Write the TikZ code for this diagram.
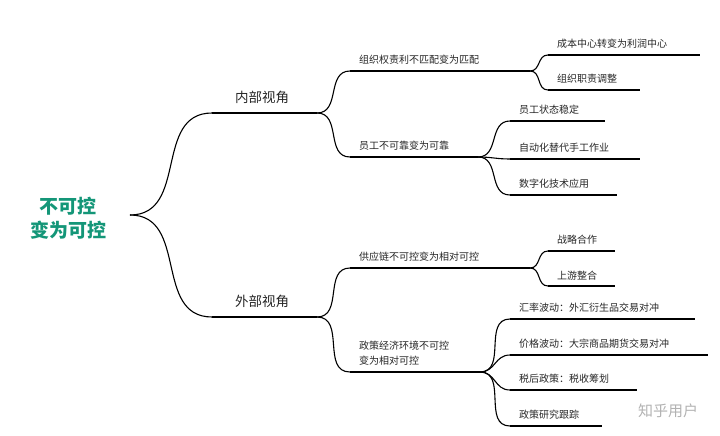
\documentclass[tikz,border=0pt]{standalone}
\usepackage{fontspec}
\setmainfont{Noto Sans CJK SC}
\definecolor{rootteal}{RGB}{20,150,120}
\usetikzlibrary{positioning}
% underlined topic: name, left x, right x, line y, text
\newcommand{\topic}[6][10pt]{%
  \coordinate (#2-l) at (#3,#5);
  \coordinate (#2-r) at (#4,#5);
  \draw[line] (#2-l) -- (#2-r);
  \node[label text, font=\fontsize{#1}{#1}\selectfont, above right=5pt and 8pt of #2-l] (#2) {#6};}
\begin{document}
\begin{tikzpicture}[x=1pt,y=-1pt,
    line/.style={line width=1.1pt, black},
    branch/.style={line, out=0, in=180, looseness=1.15},
    label text/.style={inner sep=1pt, text=black!85}]
  \useasboundingbox (0,0) rectangle (720,436);
  % root
  \node[font=\bfseries\fontsize{19}{24}\selectfont, text=rootteal, align=center] (root) at (68,218) {不可控\\变为可控};
  \coordinate (root-r) at (130,215);
  % first level
  \coordinate (inner-l) at (212,113);
  \coordinate (inner-r) at (317,113);
  \coordinate (outer-l) at (212,317);
  \coordinate (outer-r) at (317,317);
  \draw[line] (inner-l) -- (inner-r) (outer-l) -- (outer-r);
  \node[label text, font=\fontsize{13.5pt}{14pt}\selectfont] (inner) at (262,97) {内部视角};
  \node[label text, font=\fontsize{13.5pt}{14pt}\selectfont] (outer) at (262,301) {外部视角};
  % second level
  \topic{org}{350}{530}{71}{组织权责利不匹配变为匹配}
  \topic{staff}{350}{478}{157}{员工不可靠变为可靠}
  \topic{supply}{350}{530}{268}{供应链不可控变为相对可控}
  \coordinate (policy-l) at (350,372);
  \coordinate (policy-r) at (480,372);
  \draw[line] (policy-l) -- (policy-r);
  \node[label text, font=\fontsize{10pt}{15pt}\selectfont, align=left, above right=5pt and 8pt of policy-l] (policy) {政策经济环境不可控\\变为相对可控};
  % leaves
  \topic{cost}{548}{700}{55}{成本中心转变为利润中心}
  \topic{duty}{548}{640}{90}{组织职责调整}
  \topic{stable}{510}{605}{121}{员工状态稳定}
  \topic{auto}{510}{640}{159}{自动化替代手工作业}
  \topic{digital}{510}{617}{195}{数字化技术应用}
  \topic{coop}{548}{615}{251}{战略合作}
  \topic{up}{548}{615}{286}{上游整合}
  \topic{fx}{510}{695}{319}{汇率波动：外汇衍生品交易对冲}
  \topic{price}{510}{708}{355}{价格波动：大宗商品期货交易对冲}
  \topic{tax}{510}{637}{390}{税后政策：税收筹划}
  \topic{track}{510}{602}{426}{政策研究跟踪}
  % connectors
  \foreach \a/\b in {root/inner, root/outer, inner/org, inner/staff,
      outer/supply, outer/policy, org/cost, org/duty, staff/stable,
      staff/auto, staff/digital, supply/coop, supply/up, policy/fx,
      policy/price, policy/tax, policy/track}
    \draw[branch] (\a-r) to (\b-l);
  % watermark
  \node[text=black!30, font=\fontsize{15}{15}\selectfont] (mark) at (668,411) {知乎用户};
\end{tikzpicture}
\end{document}
